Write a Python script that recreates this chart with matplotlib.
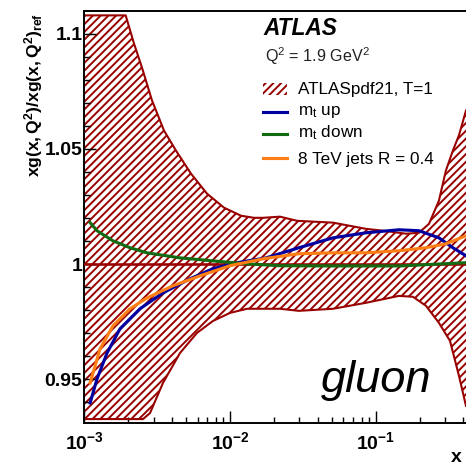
import numpy as np
import matplotlib
matplotlib.use("Agg")
import matplotlib.pyplot as plt
from matplotlib.ticker import MultipleLocator, LogLocator, NullFormatter, FormatStrFormatter
from matplotlib.lines import Line2D
from matplotlib.patches import Rectangle

# ---- data: ratio to the ATLASpdf21 (T=1) central gluon at Q^2 = 1.9 GeV^2 ----
# uncertainty band, upper edge (log10 x, ratio)
band_up_logx = [-3.0, -2.716, -2.659, -2.604, -2.535, -2.453, -2.371, -2.268, -2.158,
                -2.041, -1.924, -1.835, -1.773, -1.657, -1.540, -1.293, -1.066, -0.950,
                -0.792, -0.703, -0.634, -0.566, -0.518, -0.470, -0.428, -0.380]
band_up_val = [1.108, 1.108, 1.0958, 1.0853, 1.0710, 1.0580, 1.0493, 1.0393, 1.0306,
               1.0245, 1.0210, 1.0201, 1.0201, 1.0206, 1.0188, 1.0180, 1.0153, 1.0145,
               1.0132, 1.0136, 1.0175, 1.0275, 1.0406, 1.0493, 1.0560, 1.0667]
# uncertainty band, lower edge
band_lo_logx = [-3.0, -2.597, -2.549, -2.460, -2.343, -2.227, -2.117, -2.000, -1.883,
                -1.773, -1.657, -1.527, -1.293, -1.066, -0.840, -0.744, -0.655, -0.566,
                -0.490, -0.428, -0.380]
band_lo_val = [0.9327, 0.9327, 0.9353, 0.9484, 0.9614, 0.9701, 0.9753, 0.9788, 0.9806,
               0.9806, 0.9806, 0.9797, 0.9806, 0.9832, 0.9862, 0.9858, 0.9819, 0.9745,
               0.9667, 0.9514, 0.9384]
# central value of the reference fit
central_logx = [-3.0, -0.380]
central_val = [1.0, 1.0]

# m_t up
mtup_logx = [-2.960, -2.913, -2.844, -2.755, -2.618, -2.460, -2.275, -2.117, -1.952,
             -1.753, -1.527, -1.293, -1.066, -0.840, -0.703, -0.566, -0.470, -0.380]
mtup_val = [0.9397, 0.9501, 0.9614, 0.9719, 0.9806, 0.9875, 0.9936, 0.9980, 1.0006,
            1.0027, 1.0071, 1.0114, 1.0136, 1.0149, 1.0145, 1.0114, 1.0071, 1.0036]
# m_t down
mtdn_logx = [-2.960, -2.913, -2.803, -2.686, -2.570, -2.343, -2.117, -1.883, -1.657,
             -1.314, -0.833, -0.380]
mtdn_val = [1.0180, 1.0145, 1.0101, 1.0071, 1.0049, 1.0027, 1.0014, 1.0001, 0.9993,
            0.9992, 0.9992, 1.0006]
# 8 TeV jets, R = 0.4
jets_logx = [-2.960, -2.892, -2.803, -2.686, -2.570, -2.391, -2.206, -2.000, -1.773,
             -1.527, -1.293, -1.066, -0.840, -0.655, -0.518, -0.380]
jets_val = [0.9484, 0.9632, 0.9732, 0.9806, 0.9853, 0.9906, 0.9949, 0.9993, 1.0023,
            1.0045, 1.0049, 1.0049, 1.0058, 1.0071, 1.0088, 1.0123]

series_labels = ["ATLASpdf21, T=1", r"m$_{\mathrm{t}}$ up", r"m$_{\mathrm{t}}$ down",
                 "8 TeV jets R = 0.4"]
x_tick_values = [1e-3, 1e-2, 1e-1]
x_tick_labels = [r"$\mathbf{10^{-3}}$", r"$\mathbf{10^{-2}}$", r"$\mathbf{10^{-1}}$"]
y_tick_values = [0.95, 1.0, 1.05, 1.1]

# ---- style ----
DPI = 93
W, H = 466, 473
RED = "#990000"
BLUE = "#0000a0"
GREEN = "#126b12"
ORANGE = "#ff7f15"
LINE_W = 2.4

plt.rcParams["font.family"] = ["Liberation Sans", "DejaVu Sans"]
plt.rcParams["mathtext.fontset"] = "custom"
plt.rcParams["mathtext.rm"] = "Liberation Sans"
plt.rcParams["mathtext.it"] = "Liberation Sans:italic"
plt.rcParams["mathtext.bf"] = "Liberation Sans:bold"
plt.rcParams["hatch.linewidth"] = 1.5
plt.rcParams["hatch.color"] = RED

fig = plt.figure(figsize=(W / DPI, H / DPI), dpi=DPI)
ax = fig.add_axes([84.3 / W, 1 - 423 / H, 1 - 84.3 / W, (423 - 11) / H])


def fx(px):
    return px / W


def fy(py):
    return 1 - py / H


lx = lambda v: 10 ** np.asarray(v)

# hatched uncertainty band as a closed polygon
poly_x = np.concatenate([lx(band_up_logx), lx(band_lo_logx)[::-1]])
poly_y = np.concatenate([band_up_val, band_lo_val[::-1]])
ax.fill(poly_x, poly_y, facecolor="none", edgecolor=RED, hatch="////", linewidth=0, zorder=1)
ax.plot(lx(band_up_logx), band_up_val, color=RED, lw=1.6, zorder=2)
ax.plot(lx(band_lo_logx), band_lo_val, color=RED, lw=1.6, zorder=2)
ax.plot(lx(central_logx), central_val, color=RED, lw=2.0, zorder=3)

ax.plot(lx(mtup_logx), mtup_val, color=BLUE, lw=LINE_W, zorder=4)
ax.plot(lx(mtdn_logx), mtdn_val, color=GREEN, lw=LINE_W, zorder=4)
ax.plot(lx(jets_logx), jets_val, color=ORANGE, lw=LINE_W, zorder=5)

ax.set_xscale("log")
ax.set_xlim(1e-3, 10 ** -0.380)
ax.set_ylim(0.931, 1.1099)

# axes decoration
for side in ("left", "bottom", "top"):
    ax.spines[side].set_linewidth(1.5)
ax.spines["right"].set_visible(False)

ax.set_xticks(x_tick_values)
ax.set_xticklabels(x_tick_labels)
ax.xaxis.set_minor_locator(LogLocator(base=10, subs=np.arange(2, 10)))
ax.xaxis.set_minor_formatter(NullFormatter())
ax.set_yticks(y_tick_values)
ax.yaxis.set_major_formatter(FormatStrFormatter("%g"))
ax.yaxis.set_minor_locator(MultipleLocator(0.01))

ax.tick_params(axis="both", which="both", direction="in", top=False, right=False, width=1.1)
ax.tick_params(axis="both", which="major", length=9)
ax.tick_params(axis="both", which="minor", length=4.5)
ax.tick_params(axis="y", which="major", pad=1.5, labelsize=15)
ax.tick_params(axis="x", which="major", pad=6, labelsize=15)
for lab in ax.get_yticklabels():
    lab.set_fontweight("bold")

# axis titles
fig.text(fx(34), fy(13), r"$\mathbf{xg(x,Q^2)/xg(x,Q^2)_{ref}}$", rotation=90,
         ha="center", va="top", fontsize=13.5)
fig.text(fx(456), fy(457), "x", ha="center", va="center", fontsize=15, fontweight="bold")

# annotations
fig.text(fx(263), fy(35), "ATLAS", ha="left", va="baseline", fontsize=17.6,
         fontweight="bold", fontstyle="italic")
fig.text(fx(265), fy(61.7), r"Q$^2$ = 1.9 GeV$^2$", ha="left", va="baseline",
         fontsize=12.5, color="#222222")
fig.text(fx(321), fy(392), "gluon", ha="left", va="baseline", fontsize=35,
         fontstyle="italic")

# legend: key glyphs and labels
key_x0, key_x1, text_x = 263, 287, 298
key_centres = [88.7, 112, 133.7, 158]
text_baselines = [93.7, 115.3, 137, 163.7]
line_colors = [BLUE, GREEN, ORANGE]

fig.add_artist(Rectangle((fx(key_x0), fy(key_centres[0] + 6)), fx(key_x1 - key_x0), 12 / H,
                         transform=fig.transFigure, facecolor="none", edgecolor=RED,
                         hatch="////", linewidth=0))
for c, yc in zip(line_colors, key_centres[1:]):
    fig.add_artist(Line2D([fx(key_x0), fx(key_x1)], [fy(yc), fy(yc)],
                          transform=fig.transFigure, color=c, lw=LINE_W))
for lab, yb in zip(series_labels, text_baselines):
    fig.text(fx(text_x), fy(yb), lab, ha="left", va="baseline", fontsize=13.3)

fig.savefig("out.png", dpi=DPI)
